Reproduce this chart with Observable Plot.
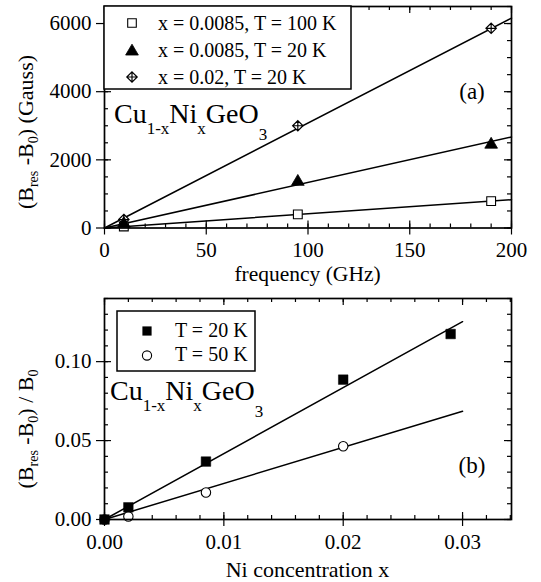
<!DOCTYPE html>
<html><head><meta charset="utf-8">
<script src="https://cdn.jsdelivr.net/npm/d3@7"></script>
<script src="https://cdn.jsdelivr.net/npm/@observablehq/plot@0.6"></script>
<style>
html,body{margin:0;padding:0;background:#fff;}
#wrap{position:relative;width:541px;height:582px;font-family:"Liberation Serif","Times New Roman",serif;}
#wrap svg{display:block;}
#overlay{position:absolute;left:0;top:0;pointer-events:none;}
</style></head><body><div id="wrap"></div>
<script>
// ---------- data: panel (a) ----------
const freqGHz = [9.5, 95, 190];
const shiftX0085T100 = [45, 400, 790];
const shiftX0085T20 = [165, 1400, 2490];
const shiftX002T20 = [250, 3000, 5860];
const fitFreqGHz = [0, 200];
const fitX0085T100 = [0, 830];
const fitX0085T20 = [0, 2670];
const fitX002T20 = [0, 6160];
const legendA = ["x = 0.0085, T = 100 K", "x = 0.0085, T = 20 K", "x = 0.02, T = 20 K"];
const xTicksA = [0, 50, 100, 150, 200];
const yTicksA = [0, 2000, 4000, 6000];

// ---------- data: panel (b) ----------
const niConcT20 = [0, 0.002, 0.0085, 0.02, 0.029];
const relShiftT20 = [0, 0.0077, 0.0367, 0.0886, 0.1175];
const niConcT50 = [0, 0.002, 0.0085, 0.02];
const relShiftT50 = [0, 0.0019, 0.0171, 0.0464];
const fitConc = [0, 0.03];
const fitT20 = [0, 0.1253];
const fitT50 = [0, 0.0686];
const legendB = ["T = 20 K", "T = 50 K"];
const xTicksB = [0, 0.01, 0.02, 0.03];
const yTicksB = [0, 0.05, 0.10];

// ---------- symbols ----------
const symSquare = {draw(c, s){const r=Math.sqrt(s/Math.PI); c.rect(-r,-r,2*r,2*r);}};
const symTriangle = {draw(c, s){const r=Math.sqrt(s/Math.PI); c.moveTo(0,-r*1.1); c.lineTo(r*1.2,r*0.95); c.lineTo(-r*1.2,r*0.95); c.closePath();}};
const symDiamondPlus = {draw(c, s){const r=Math.sqrt(s/Math.PI); c.moveTo(0,-r); c.lineTo(r,0); c.lineTo(0,r); c.lineTo(-r,0); c.closePath(); c.moveTo(-r,0); c.lineTo(r,0); c.moveTo(0,-r); c.lineTo(0,r);}};
const symCircle = d3.symbolCircle;

const pts = (xs, ys) => xs.map((x, i) => ({x, y: ys[i]}));
const FONT = "'Liberation Serif','Times New Roman',serif";

function frameTicks(xMajor, xMinor, yMajor, yMinor, innerW, innerH) {
  const M = 7, m = 4, st = {stroke: "black", strokeWidth: 1.2};
  return [
    Plot.tickX(xMinor, {x: d => d, insetTop: innerH - m, ...st}),
    Plot.tickX(xMinor, {x: d => d, insetBottom: innerH - m, ...st}),
    Plot.tickX(xMajor, {x: d => d, insetTop: innerH - M, ...st}),
    Plot.tickX(xMajor, {x: d => d, insetBottom: innerH - M, ...st}),
    Plot.tickY(yMinor, {y: d => d, insetRight: innerW - m, ...st}),
    Plot.tickY(yMinor, {y: d => d, insetLeft: innerW - m, ...st}),
    Plot.tickY(yMajor, {y: d => d, insetRight: innerW - M, ...st}),
    Plot.tickY(yMajor, {y: d => d, insetLeft: innerW - M, ...st})
  ];
}

const W = 541, ML = 104, MR = 30;
const innerW = W - ML - MR;
const LW = 1.5;

// ---------- panel (a) ----------
const hA = 290, mtA = 6, mbA = 62.5;
const plotA = Plot.plot({
  width: W, height: hA, marginLeft: ML, marginRight: MR, marginTop: mtA, marginBottom: mbA,
  style: {fontFamily: FONT, fontSize: "21px", color: "black", background: "white", overflow: "visible"},
  x: {domain: [0, 200], label: null},
  y: {domain: [0, 6500], label: null},
  marks: [
    ...frameTicks(xTicksA, d3.range(0, 201, 10), yTicksA, d3.range(0, 6501, 500), innerW, hA - mtA - mbA),
    Plot.line(pts(fitFreqGHz, fitX0085T100), {x: "x", y: "y", stroke: "black", strokeWidth: LW}),
    Plot.line(pts(fitFreqGHz, fitX0085T20), {x: "x", y: "y", stroke: "black", strokeWidth: LW}),
    Plot.line(pts(fitFreqGHz, fitX002T20), {x: "x", y: "y", stroke: "black", strokeWidth: LW}),
    Plot.dot(pts(freqGHz, shiftX0085T100), {x: "x", y: "y", symbol: symSquare, r: 4.4, fill: "white", stroke: "black", strokeWidth: 1.1}),
    Plot.dot(pts(freqGHz, shiftX002T20), {x: "x", y: "y", symbol: symDiamondPlus, r: 5.2, fill: "white", stroke: "black", strokeWidth: 1.2}),
    Plot.dot(pts(freqGHz, shiftX0085T20), {x: "x", y: "y", symbol: symTriangle, r: 5.3, fill: "black", stroke: "black", strokeWidth: 0.8}),
    Plot.frame({stroke: "black", strokeWidth: 1.7}),
    Plot.axisX({ticks: xTicksA, tickSize: 7, tickPadding: 7, fontSize: 21, tickFormat: d3.format("d"), label: null, strokeWidth: 1.2}),
    Plot.axisY({ticks: yTicksA, tickSize: 8, tickPadding: 5, fontSize: 21, tickFormat: d3.format("d"), label: null, strokeWidth: 1.2})
  ]
});

// ---------- panel (b) ----------
const hB = 292, mtB = 8, mbB = 63;
const plotB = Plot.plot({
  width: W, height: hB, marginLeft: ML, marginRight: MR, marginTop: mtB, marginBottom: mbB,
  style: {fontFamily: FONT, fontSize: "21px", color: "black", background: "white", overflow: "visible"},
  x: {domain: [0, 0.0341], label: null},
  y: {domain: [0, 0.14], label: null},
  marks: [
    ...frameTicks(xTicksB, d3.range(0, 0.0341, 0.002), yTicksB, d3.range(0, 0.1401, 0.01), innerW, hB - mtB - mbB),
    Plot.line(pts(fitConc, fitT20), {x: "x", y: "y", stroke: "black", strokeWidth: LW}),
    Plot.line(pts(fitConc, fitT50), {x: "x", y: "y", stroke: "black", strokeWidth: LW}),
    Plot.dot(pts(niConcT50, relShiftT50), {x: "x", y: "y", symbol: symCircle, r: 4.7, fill: "white", stroke: "black", strokeWidth: 1.1}),
    Plot.dot(pts(niConcT20, relShiftT20), {x: "x", y: "y", symbol: symSquare, r: 4.8, fill: "black", stroke: "black", strokeWidth: 0.5}),
    Plot.frame({stroke: "black", strokeWidth: 1.7}),
    Plot.axisX({ticks: xTicksB, tickSize: 7, tickPadding: 8, fontSize: 21, tickFormat: d3.format(".2f"), label: null, strokeWidth: 1.2}),
    Plot.axisY({ticks: yTicksB, tickSize: 8, tickPadding: 5, fontSize: 21, tickFormat: d3.format(".2f"), label: null, strokeWidth: 1.2})
  ]
});

const wrap = document.getElementById("wrap");
wrap.appendChild(plotA);
wrap.appendChild(plotB);

// ---------- overlay: titles, formula, legends ----------
const path = (sym, r) => d3.symbol(sym, r * r * Math.PI)();
const legA = legendA.map((t, i) => {
  const y = 23 + i * 27;
  const sym = [
    `<path transform="translate(132,${y})" d="${path(symSquare, 4.3)}" fill="white" stroke="black" stroke-width="1.1"/>`,
    `<path transform="translate(132,${y})" d="${path(symTriangle, 5.3)}" fill="black" stroke="black" stroke-width="0.8"/>`,
    `<path transform="translate(132,${y})" d="${path(symDiamondPlus, 5.2)}" fill="white" stroke="black" stroke-width="1.2"/>`
  ][i];
  return sym + `<text x="158" y="${y + 7}" font-size="20">${t}</text>`;
}).join("");
const legB = legendB.map((t, i) => {
  const y = 331 + i * 24.5;
  const sym = i === 0
    ? `<path transform="translate(147,${y})" d="${path(symSquare, 4.6)}" fill="black"/>`
    : `<path transform="translate(147,${y})" d="${path(symCircle, 4.6)}" fill="white" stroke="black" stroke-width="1.1"/>`;
  return sym + `<text x="175" y="${y + 5.5}" font-size="20">${t}</text>`;
}).join("");

const formula = (x, y) => `<text x="${x}" y="${y}" font-size="28">Cu<tspan font-size="17" dy="11">1-x</tspan><tspan dy="-11">Ni</tspan><tspan font-size="17" dy="11">x</tspan><tspan dy="-11">GeO</tspan><tspan font-size="17" dy="17">3</tspan></text>`;

const ov = `<svg id="overlay" width="541" height="582" font-family="${FONT}" fill="black">
  <rect x="104" y="6" width="247" height="83" fill="white" stroke="black" stroke-width="1.5"/>
  ${legA}
  <rect x="117" y="311" width="138" height="60" fill="white" stroke="black" stroke-width="1.5"/>
  ${legB}
  ${formula(114, 123)}
  ${formula(110, 400)}
  <text x="472" y="99" font-size="23" text-anchor="middle">(a)</text>
  <text x="472" y="473" font-size="23" text-anchor="middle">(b)</text>
  <text x="307.5" y="281" font-size="21.5" text-anchor="middle">frequency (GHz)</text>
  <text x="307.5" y="577" font-size="22" text-anchor="middle">Ni concentration x</text>
  <text transform="translate(33,132) rotate(-90)" text-anchor="middle" font-size="22">(B<tspan font-size="14" dy="5">res</tspan><tspan dy="-5"> -B</tspan><tspan font-size="14" dy="5">0</tspan><tspan dy="-5">) (Gauss)</tspan></text>
  <text transform="translate(33,429) rotate(-90)" text-anchor="middle" font-size="22">(B<tspan font-size="14" dy="5">res</tspan><tspan dy="-5"> -B</tspan><tspan font-size="14" dy="5">0</tspan><tspan dy="-5">) / B</tspan><tspan font-size="14" dy="5">0</tspan></text>
</svg>`;
wrap.insertAdjacentHTML("beforeend", ov);
</script></body></html>
